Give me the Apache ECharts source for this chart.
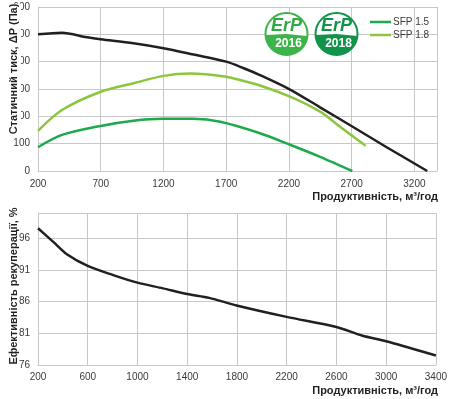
<!DOCTYPE html>
<html><head><meta charset="utf-8">
<script src="https://cdn.jsdelivr.net/npm/echarts@6/dist/echarts.min.js"></script>
<style>html,body{margin:0;padding:0;background:#fff}#c{width:450px;height:399px}</style>
</head><body><div id="c"></div>
<script>
// Top chart: static pressure vs airflow
const fanX   = [200, 391, 590, 700, 961, 1200, 1439, 1700, 1840, 1969, 2209, 2448, 2708, 2979, 3302];
const fanY   = [500, 506, 489, 482, 467, 449, 426, 400, 376, 351, 298, 233, 162, 87, 0];
const sfp18X = [200, 391, 700, 961, 1200, 1413, 1700, 1840, 1969, 2209, 2448, 2607, 2811];
const sfp18Y = [147, 223, 290, 321, 348, 357, 345, 329, 313, 272, 217, 162, 92];
const sfp15X = [200, 391, 700, 961, 1200, 1439, 1653, 1969, 2209, 2448, 2705];
const sfp15Y = [87, 132, 165, 184, 191, 191, 180, 138, 96, 52, 0];
const topXTicks = [200, 700, 1200, 1700, 2200, 2700, 3200];
const topYTicks = [0, 100, 200, 300, 400, 500, 600];
// Bottom chart: recuperation efficiency
const effX = [200, 325, 432, 600, 805, 1000, 1205, 1400, 1578, 1797, 2200, 2600, 2805, 3000, 3205, 3400];
const effY = [97.6, 95.4, 93.5, 91.65, 90.2, 89.0, 88.1, 87.2, 86.6, 85.4, 83.6, 82.0, 80.65, 79.75, 78.6, 77.5];
const botXTicks = [200, 600, 1000, 1400, 1800, 2200, 2600, 3000, 3400];
const botYTicks = [76, 81, 86, 91, 96];

const X0 = 200, Y0 = 76;
const pairs = (xs, ys, dx, dy) => xs.map((x, i) => [x - dx, ys[i] - dy]);
const lab = {color:'#3a3a3a', fontSize:10, fontFamily:'Liberation Sans Narrow, Liberation Sans, sans-serif'};
const grid = {lineStyle:{color:'#c8c8c8', width:1}};
const axLine = {lineStyle:{color:'#c8c8c8', width:1}};
const nameFont = 'bold 11px "Liberation Sans", sans-serif';

function badge(cx, cy, col, txtCol, year) {
  return {type:'group', children:[
    {type:'circle', shape:{cx:cx, cy:cy, r:21}, style:{fill:'#fff', stroke:col, lineWidth:2}, z:10},
    {type:'sector', shape:{cx:cx, cy:cy, r:21, r0:0, startAngle:0.1, endAngle:Math.PI-0.05}, style:{fill:col}, z:11},
    {type:'text', x:cx, y:cy-8, style:{text:'ErP', fill:txtCol, font:'italic bold 18px "Liberation Sans", sans-serif', align:'center', verticalAlign:'middle'}, z:12},
    {type:'text', x:cx+2, y:cy+10, style:{text:year, fill:'#fff', font:'bold 12px "Liberation Sans Narrow", sans-serif', align:'center', verticalAlign:'middle'}, z:12}
  ]};
}

const chart = echarts.init(document.getElementById('c'), null, {renderer:'canvas'});
chart.setOption({
  animation:false,
  grid:[
    {left:38, right:13, top:7, height:164},
    {left:38, right:12, top:213, height:152}
  ],
  xAxis:[
    {gridIndex:0, type:'value', min:0, max:3180, interval:500,
     axisLine:axLine, axisTick:{show:false}, splitLine:grid,
     axisLabel:Object.assign({margin:8, formatter:v => topXTicks.includes(v + X0) ? String(v + X0) : ''}, lab)},
    {gridIndex:1, type:'value', min:0, max:3200, interval:400,
     axisLine:axLine, axisTick:{show:false}, splitLine:grid,
     axisLabel:Object.assign({margin:7, formatter:v => botXTicks.includes(v + X0) ? String(v + X0) : ''}, lab)}
  ],
  yAxis:[
    {gridIndex:0, type:'value', min:0, max:600, interval:100,
     axisLine:{show:true, lineStyle:{color:'#c8c8c8'}}, axisTick:{show:false}, splitLine:grid,
     axisLabel:Object.assign({margin:8, formatter:v => topYTicks.includes(v) ? String(v) : ''}, lab)},
    {gridIndex:1, type:'value', min:0, max:24, interval:5,
     axisLine:{show:true, lineStyle:{color:'#c8c8c8'}}, axisTick:{show:false}, splitLine:grid,
     axisLabel:Object.assign({margin:8, formatter:v => botYTicks.includes(v + Y0) ? String(v + Y0) : ''}, lab)}
  ],
  legend:{orient:'vertical', left:368, top:15, itemWidth:21, itemHeight:2.5, itemGap:3, icon:'rect', padding:2,
    data:['SFP 1.5','SFP 1.8'], textStyle:Object.assign({}, lab, {padding:[0,0,0,-3]})},
  series:[
    {name:'fan', type:'line', xAxisIndex:0, yAxisIndex:0, data:pairs(fanX, fanY, X0, 0), smooth:0.3, symbol:'none', lineStyle:{color:'#231f20', width:2.5}, z:5},
    {name:'SFP 1.8', type:'line', xAxisIndex:0, yAxisIndex:0, data:pairs(sfp18X, sfp18Y, X0, 0), smooth:0.3, symbol:'none', color:'#8cc63e', lineStyle:{color:'#8cc63e', width:2.5}},
    {name:'SFP 1.5', type:'line', xAxisIndex:0, yAxisIndex:0, data:pairs(sfp15X, sfp15Y, X0, 0), smooth:0.3, symbol:'none', color:'#1daa4c', lineStyle:{color:'#1daa4c', width:2.5}},
    {name:'eff', type:'line', xAxisIndex:1, yAxisIndex:1, data:pairs(effX, effY, X0, Y0), smooth:0.3, symbol:'none', lineStyle:{color:'#231f20', width:2.5}}
  ],
  graphic:[
    {type:'text', x:14, y:69, rotation:Math.PI/2, style:{text:'Статичний тиск, ΔP (Па)', fill:'#231f20', font:nameFont, align:'center', verticalAlign:'middle', backgroundColor:'#fff', padding:[0,0,3,0]}, z:20},
    {type:'text', x:14, y:286, rotation:Math.PI/2, style:{text:'Ефективність рекуперації, %', fill:'#231f20', font:nameFont, align:'center', verticalAlign:'middle'}, z:20},
    {type:'text', x:438, y:197, style:{text:'Продуктивність, м³/год', fill:'#231f20', font:nameFont, align:'right', verticalAlign:'middle'}, z:20},
    {type:'text', x:438, y:391, style:{text:'Продуктивність, м³/год', fill:'#231f20', font:nameFont, align:'right', verticalAlign:'middle'}, z:20},
    badge(286.5, 34, '#3db449', '#2fa845', '2016'),
    badge(336.5, 34, '#12934a', '#12934a', '2018')
  ]
});
</script></body></html>
